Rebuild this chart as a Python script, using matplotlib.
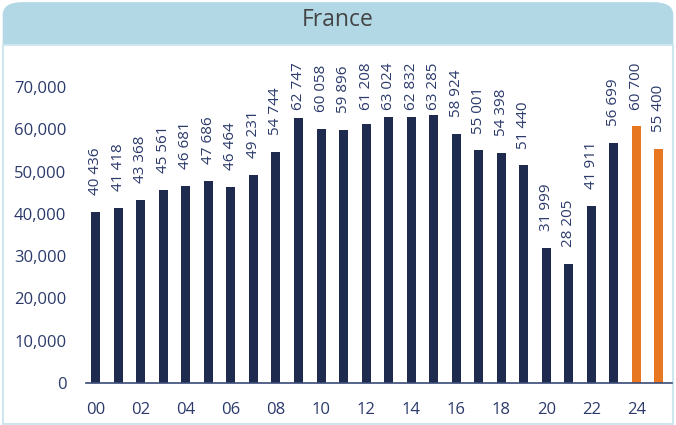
import matplotlib.pyplot as plt
from matplotlib.patches import FancyBboxPatch, Rectangle
from matplotlib.ticker import FuncFormatter

years = ['00', '01', '02', '03', '04', '05', '06', '07', '08', '09', '10', '11', '12',
         '13', '14', '15', '16', '17', '18', '19', '20', '21', '22', '23', '24', '25']
values = [40436, 41418, 43368, 45561, 46681, 47686, 46464, 49231, 54744, 62747, 60058,
          59896, 61208, 63024, 62832, 63285, 58924, 55001, 54398, 51440, 31999, 28205,
          41911, 56699, 60700, 55400]
forecast = [False] * 24 + [True, True]

navy = '#1e2a4e'
orange = '#e87722'
txt = '#2b3a6b'
header = '#b2d8e6'

plt.rcParams['font.family'] = ['Open Sans', 'DejaVu Sans']

fig = plt.figure(figsize=(6.76, 4.25), dpi=100)

# header band and frame
fig.patches.append(FancyBboxPatch((0.004, 0.02), 0.992, 0.975, boxstyle='round,pad=0,rounding_size=0.03',
                                  transform=fig.transFigure, facecolor=header, edgecolor='none', zorder=0))
fig.patches.append(Rectangle((0.004, 0.003), 0.992, 0.89, transform=fig.transFigure,
                             facecolor='white', edgecolor='#cfe6ef', lw=1.5, zorder=0.5))
fig.text(0.5, 0.952, 'France', ha='center', va='center', fontsize=16.5, color='#444444')

ax = fig.add_axes([0.127, 0.099, 0.867, 0.746])
ax.set_zorder(2)
ax.set_facecolor('none')

x = list(range(len(values)))
colors = [orange if f else navy for f in forecast]
ax.bar(x, values, width=0.4, color=colors, zorder=2)

# labels sit above the bar, but are pushed down when they would run off the top
for xi, v in zip(x, values):
    lab = f'{v:,}'.replace(',', ' ')
    ax.text(xi, min(v + 4000, 64500), lab, rotation=90, ha='center', va='bottom',
            fontsize=11, color=txt, clip_on=False)

ax.set_xlim(-0.44, 25.58)
ax.set_ylim(0, 75000)
ax.set_yticks(range(0, 70001, 10000))
ax.yaxis.set_major_formatter(FuncFormatter(lambda v, p: f'{int(v):,}'))
ax.set_xticks(x[::2])
ax.set_xticklabels(years[::2])
ax.tick_params(axis='both', length=0, labelsize=12, colors=txt)
ax.tick_params(axis='x', pad=14)
ax.tick_params(axis='y', pad=14)

for s in ['top', 'right', 'left']:
    ax.spines[s].set_visible(False)
ax.spines['bottom'].set_color('#3a4a78')
ax.spines['bottom'].set_linewidth(1.2)

fig.savefig('out.png', dpi=100)
